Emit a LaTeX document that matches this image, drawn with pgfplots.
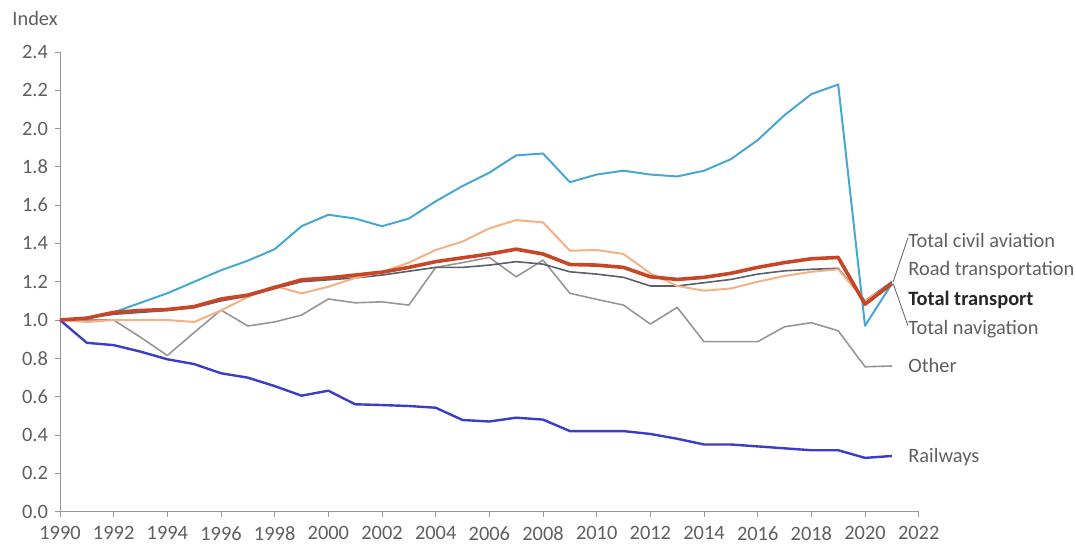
\documentclass[border=0pt]{standalone}
\usepackage{fontspec}
\setmainfont{Carlito}
\usepackage{pgfplots}
\pgfplotsset{compat=1.18}
\definecolor{aviation}{RGB}{70,168,210}
\definecolor{road}{RGB}{244,177,131}
\definecolor{totalt}{RGB}{200,70,40}
\definecolor{navig}{RGB}{90,95,105}
\definecolor{other}{RGB}{150,150,150}
\definecolor{rail}{RGB}{60,60,200}
\definecolor{axgray}{RGB}{150,150,150}
\definecolor{txtgray}{RGB}{95,95,95}
\begin{document}
\begin{tikzpicture}[x=1pt,y=1pt]
\path[use as bounding box] (-30,-17.25) rectangle (508,255.75);
\begin{axis}[
  at={(0,0)}, anchor=south west,
  scale only axis, width=429.35pt, height=229.75pt,
  xmin=1990, xmax=2022, ymin=0, ymax=2.4,
  axis lines=left, axis line style={draw=axgray, -},
  xtick={1990,1992,...,2022},
  ytick={0,0.2,0.4,0.6,0.8,1.0,1.2,1.4,1.6,1.8,2.0,2.2,2.4},
  tick align=outside, major tick length=2.5pt, tick style={axgray, thin},
  x tick label style={/pgf/number format/1000 sep={}, yshift=-1.5pt},
  y tick label style={/pgf/number format/.cd, fixed, fixed zerofill, precision=1},
  /pgf/number format/assume math mode=true,
  ticklabel style={font=\fontsize{10.2}{12}\selectfont, text=txtgray},
  clip=false,
]
% Other
\addplot[other, line width=0.8pt, line join=round] coordinates {
(1990,1.0) (1991,1.0) (1992,1.0) (1993,0.91) (1994,0.815) (1995,0.935) (1996,1.052) (1997,0.969) (1998,0.99) (1999,1.026) (2000,1.11) (2001,1.09) (2002,1.095) (2003,1.078) (2004,1.275) (2005,1.30) (2006,1.327) (2007,1.226) (2008,1.313) (2009,1.14) (2010,1.108) (2011,1.078) (2012,0.979) (2013,1.066) (2014,0.887) (2015,0.887) (2016,0.887) (2017,0.965) (2018,0.986) (2019,0.944) (2020,0.756) (2021,0.76)};
% Total navigation
\addplot[navig, line width=0.8pt, line join=round] coordinates {
(1990,1.0) (1991,1.01) (1992,1.03) (1993,1.04) (1994,1.05) (1995,1.065) (1996,1.10) (1997,1.125) (1998,1.165) (1999,1.20) (2000,1.21) (2001,1.22) (2002,1.235) (2003,1.255) (2004,1.275) (2005,1.275) (2006,1.287) (2007,1.305) (2008,1.292) (2009,1.252) (2010,1.24) (2011,1.223) (2012,1.178) (2013,1.178) (2014,1.195) (2015,1.212) (2016,1.24) (2017,1.257) (2018,1.265) (2019,1.27) (2020,1.10) (2021,1.20)};
% Road transportation
\addplot[road, line width=1pt, line join=round] coordinates {
(1990,1.0) (1991,0.99) (1992,1.0) (1993,1.0) (1994,1.0) (1995,0.99) (1996,1.05) (1997,1.12) (1998,1.178) (1999,1.139) (2000,1.174) (2001,1.22) (2002,1.25) (2003,1.30) (2004,1.366) (2005,1.41) (2006,1.479) (2007,1.522) (2008,1.51) (2009,1.362) (2010,1.366) (2011,1.345) (2012,1.244) (2013,1.178) (2014,1.153) (2015,1.165) (2016,1.20) (2017,1.23) (2018,1.252) (2019,1.265) (2020,1.10) (2021,1.19)};
% Total civil aviation
\addplot[aviation, line width=1pt, line join=round] coordinates {
(1990,1.00) (1991,1.01) (1992,1.04) (1993,1.09) (1994,1.14) (1995,1.20) (1996,1.26) (1997,1.31) (1998,1.37) (1999,1.49) (2000,1.55) (2001,1.53) (2002,1.49) (2003,1.53) (2004,1.62) (2005,1.70) (2006,1.77) (2007,1.86) (2008,1.87) (2009,1.72) (2010,1.76) (2011,1.78) (2012,1.76) (2013,1.75) (2014,1.78) (2015,1.84) (2016,1.94) (2017,2.07) (2018,2.18) (2019,2.23) (2020,0.97) (2021,1.19)};
% Railways
\addplot[rail, line width=1.2pt, line join=round] coordinates {
(1990,1.0) (1991,0.881) (1992,0.869) (1993,0.835) (1994,0.795) (1995,0.77) (1996,0.722) (1997,0.699) (1998,0.655) (1999,0.605) (2000,0.631) (2001,0.56) (2002,0.556) (2003,0.551) (2004,0.542) (2005,0.478) (2006,0.47) (2007,0.49) (2008,0.48) (2009,0.42) (2010,0.42) (2011,0.42) (2012,0.405) (2013,0.38) (2014,0.35) (2015,0.35) (2016,0.34) (2017,0.33) (2018,0.32) (2019,0.32) (2020,0.28) (2021,0.29)};
% Total transport
\addplot[totalt, line width=1.8pt, line join=round] coordinates {
(1990,1.00) (1991,1.01) (1992,1.04) (1993,1.05) (1994,1.055) (1995,1.07) (1996,1.11) (1997,1.13) (1998,1.17) (1999,1.21) (2000,1.22) (2001,1.235) (2002,1.25) (2003,1.275) (2004,1.305) (2005,1.325) (2006,1.345) (2007,1.37) (2008,1.345) (2009,1.29) (2010,1.287) (2011,1.275) (2012,1.226) (2013,1.212) (2014,1.223) (2015,1.244) (2016,1.275) (2017,1.30) (2018,1.32) (2019,1.327) (2020,1.083) (2021,1.19)};
% leader lines
\draw[txtgray, line width=0.4pt] (axis cs:2021.05,1.20) -- (axis cs:2021.6,1.43);
\draw[txtgray, line width=0.4pt] (axis cs:2021.05,1.19) -- (axis cs:2021.6,0.97);
% labels
\begin{scope}[every node/.style={anchor=west, inner sep=0pt, text=txtgray, font=\fontsize{10.2}{12}\selectfont}]
\node at (axis cs:2021.6,1.418) {Total civil aviation};
\node at (axis cs:2021.6,1.261) {Road transportation};
\node[text=black!85] at (axis cs:2021.6,1.104) {\bfseries Total transport};
\node at (axis cs:2021.6,0.953) {Total navigation};
\node at (axis cs:2021.6,0.765) {Other};
\node at (axis cs:2021.6,0.285) {Railways};
\end{scope}
\node[anchor=west, inner sep=0pt, text=txtgray, font=\fontsize{10.2}{12}\selectfont, xshift=-24pt, yshift=17pt] at (rel axis cs:0,1) {Index};
\end{axis}
\end{tikzpicture}
\end{document}
